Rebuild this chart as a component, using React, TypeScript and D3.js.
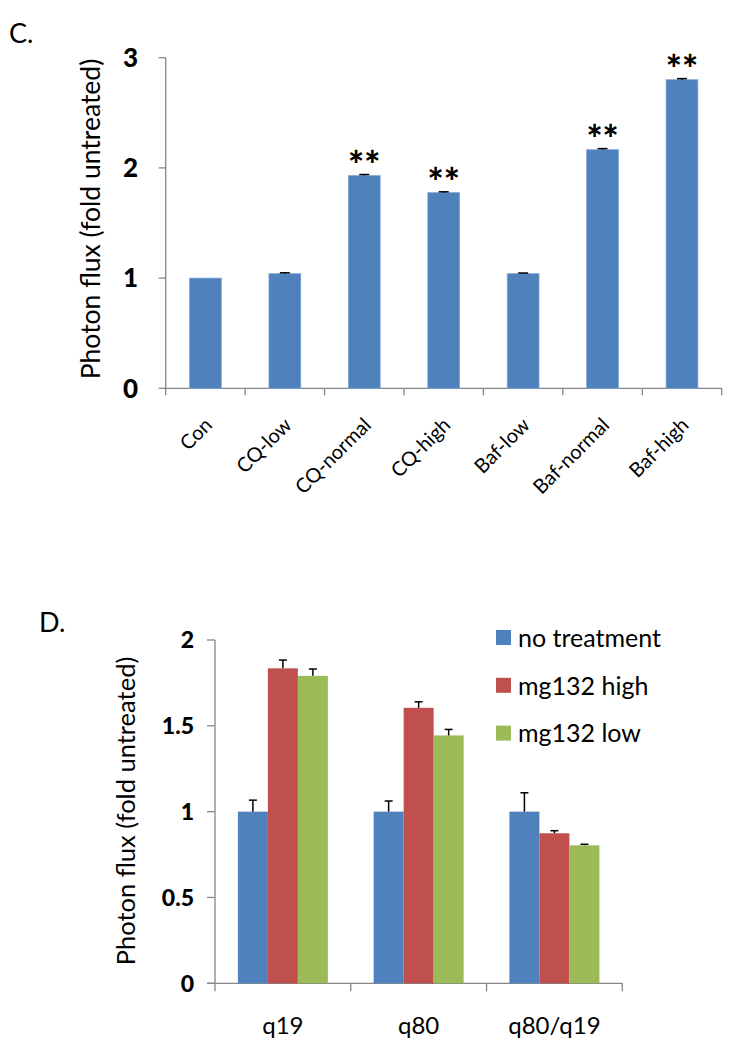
import React from "react";
import * as d3 from "d3";

const catsC = ["Con", "CQ-low", "CQ-normal", "CQ-high", "Baf-low", "Baf-normal", "Baf-high"];
const valsC = [1.0, 1.04, 1.93, 1.775, 1.04, 2.165, 2.8];
const errsC = [0, 0.008, 0.01, 0.008, 0.006, 0.01, 0.01];
const starsC = [false, false, true, true, false, true, true];
const ticksC = [0, 1, 2, 3];

const catsD = ["q19", "q80", "q80/q19"];
const seriesD = ["no treatment", "mg132 high", "mg132 low"];
const colorsD = ["#4f81bd", "#c0504d", "#9bbb59"];
const valsNoTreat = [1.0, 1.0, 1.0];
const valsHigh = [1.835, 1.605, 0.874];
const valsLow = [1.791, 1.444, 0.804];
const errNoTreat = [0.067, 0.062, 0.11];
const errHigh = [0.048, 0.035, 0.015];
const errLow = [0.04, 0.035, 0.006];
const ticksD = [0, 0.5, 1, 1.5, 2];

const FONT = "Lato, 'Open Sans', sans-serif";
const AXIS = "#868686";

export default function App() {
  // Chart C
  const cx0 = 165.7, cx1 = 721.7, cy0 = 388.3, cy1 = 57.7;
  const xC = d3.scaleBand<string>().domain(catsC).range([cx0, cx1]).paddingInner(0.6).paddingOuter(0.3);
  const xCticks = d3.scaleBand<string>().domain(catsC).range([cx0, cx1]);
  const yC = d3.scaleLinear().domain([0, 3]).range([cy0, cy1]);

  // Chart D
  const dx0 = 215, dx1 = 622.3, dy0 = 983.3, dy1 = 640;
  const xD = d3.scaleBand<string>().domain(catsD).range([dx0, dx1]);
  const yD = d3.scaleLinear().domain([0, 2]).range([dy0, dy1]);
  const barW = 30;
  const valsD = [valsNoTreat, valsHigh, valsLow];
  const errsD = [errNoTreat, errHigh, errLow];

  return (
    <svg width={735} height={1050} style={{ position: "absolute", left: 0, top: 0, background: "#fff" }} fontFamily={FONT}>
      <rect width={735} height={1050} fill="#fff" />
      {/* Panel C */}
      <text x={9} y={43} fontSize={27}>C.</text>
      <text transform={`translate(100,219) rotate(-90)`} textAnchor="middle" fontSize={26.5}>Photon flux (fold untreated)</text>
      <line x1={cx0} x2={cx0} y1={cy1} y2={cy0} stroke={AXIS} strokeWidth={1.3} />
      <line x1={cx0} x2={cx1} y1={cy0} y2={cy0} stroke={AXIS} strokeWidth={1.3} />
      {ticksC.map((t) => (
        <g key={t}>
          <line x1={cx0 - 7} x2={cx0} y1={yC(t)} y2={yC(t)} stroke={AXIS} strokeWidth={1.3} />
          <text x={138} y={yC(t)} dy="0.36em" textAnchor="end" fontSize={26} fontWeight="900">{t}</text>
        </g>
      ))}
      {catsC.map((c) => (
        <line key={c} x1={xCticks(c)!} x2={xCticks(c)!} y1={cy0} y2={cy0 + 7} stroke={AXIS} strokeWidth={1.3} />
      ))}
      <line x1={cx1} x2={cx1} y1={cy0} y2={cy0 + 7} stroke={AXIS} strokeWidth={1.3} />
      {catsC.map((c, i) => {
        const x = xC(c)!;
        const w = xC.bandwidth();
        const mid = x + w / 2;
        return (
          <g key={c}>
            <rect x={x} y={yC(valsC[i])} width={w} height={cy0 - yC(valsC[i])} fill="#4f81bd" stroke="#7da3d6" strokeWidth={0.8} />
            {errsC[i] > 0 && (
              <g stroke="#000" strokeWidth={1.5}>
                <line x1={mid} x2={mid} y1={yC(valsC[i])} y2={yC(valsC[i] + errsC[i])} />
                <line x1={mid - 5} x2={mid + 5} y1={yC(valsC[i] + errsC[i])} y2={yC(valsC[i] + errsC[i])} />
              </g>
            )}
            {starsC[i] && (
              <text x={mid} y={yC(valsC[i])} dy={3} textAnchor="middle" fontSize={38} fontWeight="900">**</text>
            )}
            <text transform={`translate(${mid + 8},${cy0 + 38}) rotate(-45)`} textAnchor="end" fontSize={20}>{c}</text>
          </g>
        );
      })}

      {/* Panel D */}
      <text x={39} y={632} fontSize={27}>D.</text>
      <text transform={`translate(135,811) rotate(-90)`} textAnchor="middle" fontSize={25.5}>Photon flux (fold untreated)</text>
      <line x1={dx0} x2={dx0} y1={dy1} y2={dy0} stroke={AXIS} strokeWidth={1.3} />
      <line x1={dx0 - 8} x2={dx1} y1={dy0} y2={dy0} stroke={AXIS} strokeWidth={1.3} />
      {ticksD.map((t) => (
        <g key={t}>
          <line x1={dx0 - 8} x2={dx0} y1={yD(t)} y2={yD(t)} stroke={AXIS} strokeWidth={1.3} />
          <text x={194} y={yD(t)} dy="0.36em" textAnchor="end" fontSize={23} fontWeight="900">{t}</text>
        </g>
      ))}
      {catsD.map((c) => (
        <line key={c} x1={xD(c)!} x2={xD(c)!} y1={dy0} y2={dy0 + 8} stroke={AXIS} strokeWidth={1.3} />
      ))}
      <line x1={dx1} x2={dx1} y1={dy0} y2={dy0 + 8} stroke={AXIS} strokeWidth={1.3} />
      {catsD.map((c, ci) => {
        const center = xD(c)! + xD.bandwidth() / 2;
        const start = center - (barW * seriesD.length) / 2;
        return (
          <g key={c}>
            {seriesD.map((s, si) => {
              const v = valsD[si][ci];
              const e = errsD[si][ci];
              const x = start + si * barW;
              const mid = x + barW / 2;
              return (
                <g key={s}>
                  <rect x={x} y={yD(v)} width={barW} height={dy0 - yD(v)} fill={colorsD[si]} />
                  <g stroke="#000" strokeWidth={1.5}>
                    <line x1={mid} x2={mid} y1={yD(v)} y2={yD(v + e)} />
                    <line x1={mid - 4} x2={mid + 4} y1={yD(v + e)} y2={yD(v + e)} />
                  </g>
                </g>
              );
            })}
            <text x={center} y={1034} textAnchor="middle" fontSize={24}>{c}</text>
          </g>
        );
      })}
      {seriesD.map((s, si) => (
        <g key={s}>
          <rect x={496} y={630 + si * 47.8} width={15} height={15} fill={colorsD[si]} />
          <text x={518} y={637.7 + si * 47.8} dy="0.36em" fontSize={25}>{s}</text>
        </g>
      ))}
    </svg>
  );
}
